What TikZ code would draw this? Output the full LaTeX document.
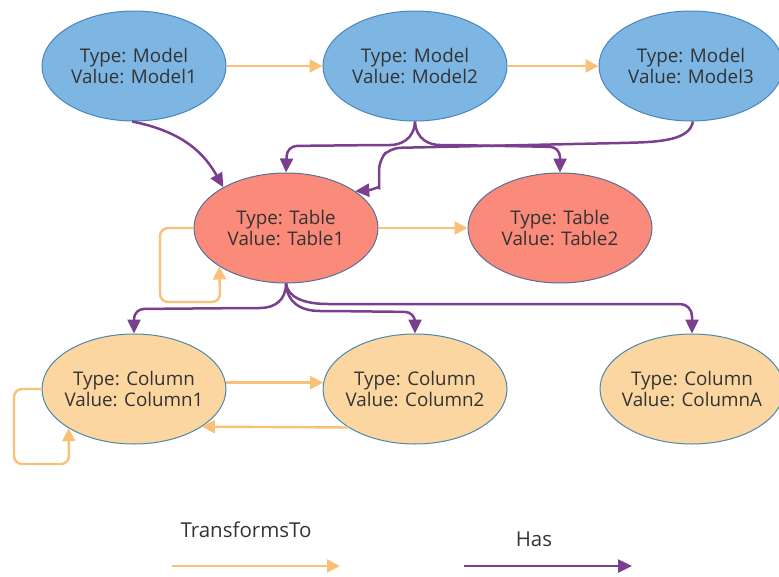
\documentclass[tikz,border=0pt]{standalone}
\usepackage{fontspec}
\setmainfont{Open Sans}
\usetikzlibrary{shapes.geometric,arrows.meta}
\definecolor{modelfill}{HTML}{7DB5E3}
\definecolor{modelline}{HTML}{4A86BE}
\definecolor{tablefill}{HTML}{FA8A7A}
\definecolor{tableline}{HTML}{5A6F98}
\definecolor{colfill}{HTML}{FCD6A0}
\definecolor{colline}{HTML}{4A8AA8}
\definecolor{trans}{HTML}{F9C177}
\definecolor{hasc}{HTML}{7A3F8E}
\definecolor{txt}{HTML}{333333}
\tikzset{
  entity/.style={ellipse, minimum width=184pt, minimum height=110pt,
    inner xsep=-16pt, inner ysep=0pt, line width=1pt, align=center, text=txt,
    font=\fontsize{18.8}{20.5}\selectfont},
  model/.style={entity, fill=modelfill, draw=modelline},
  tbl/.style={entity, fill=tablefill, draw=tableline},
  col/.style={entity, fill=colfill, draw=colline},
  transforms/.style={draw=trans, line width=2.4pt, -{Triangle[length=13pt,width=13pt]}},
  has/.style={draw=hasc, line width=2.5pt, -{Triangle[length=14pt,width=13pt]}},
  legendtext/.style={text=txt, font=\fontsize{20.5}{24}\selectfont}
}
\begin{document}
\begin{tikzpicture}[x=1pt, y=-1pt]
\useasboundingbox (0,0) rectangle (779,576);

% entities
\node[model] (m1) at (134,66) {Type: Model\\Value: Model1};
\node[model] (m2) at (415,66) {Type: Model\\Value: Model2};
\node[model] (m3) at (691,66) {Type: Model\\Value: Model3};
\node[tbl] (t1) at (286,228) {Type: Table\\Value: Table1};
\node[tbl] (t2) at (560,228) {Type: Table\\Value: Table2};
\node[col] (c1) at (134,389) {Type: Column\\Value: Column1};
\node[col] (c2) at (415,389) {Type: Column\\Value: Column2};
\node[col] (ca) at (692,389) {Type: Column\\Value: ColumnA};

% TransformsTo relations
\draw[transforms] (m1.east) -- (m2.west);
\draw[transforms] (m2.east) -- (m3.west);
\draw[transforms] (t1.east) -- (t2.west);
\draw[transforms] (c1.4) -- (c2.176);
\draw[transforms] (c2.-150) -- (c1.-29);
\draw[transforms, rounded corners=8pt] (t1.west) -- (160,228) -- (160,302) -- (220,302) -- (t1.-150);
\draw[transforms, rounded corners=8pt] (c1.west) -- (14,389) -- (14,464) -- (69,464) -- (c1.-149);

% Has relations
\draw[has] (m1.-92) .. controls (185,132) and (205,155) .. (t1.147);
\draw[has, rounded corners=10pt] (m2.-90) .. controls (414,140) and (400,145) .. (380,145) -- (287,146) -- (t1.north);
\draw[has, rounded corners=10pt] (m2.-90) .. controls (416,140) and (430,145) .. (450,145) -- (560,147) -- (t2.north);
\draw[has, rounded corners=10pt] (m3.-88) .. controls (690,140) and (660,142) .. (620,143) -- (390,148) -- (379,160) -- (379,178) .. controls (379,186) and (372,190) .. (t1.28);
\draw[has, rounded corners=10pt] (t1.south) .. controls (286,300) and (275,308) .. (250,308) -- (134,309) -- (c1.north);
\draw[has, rounded corners=10pt] (t1.south) .. controls (287,302) and (300,311) .. (330,311) -- (415,312) -- (c2.north);
\draw[has, rounded corners=12pt] (t1.south) .. controls (288,298) and (305,304) .. (340,304) -- (692,304) -- (ca.north);

% legend
\node[legendtext] (lt) at (246,530) {TransformsTo};
\coordinate (lta) at (172,566);
\coordinate (ltb) at (340,566);
\draw[transforms] (lta) -- (ltb);
\node[legendtext] (lh) at (534,539) {Has};
\coordinate (lha) at (464,566);
\coordinate (lhb) at (632,566);
\draw[has] (lha) -- (lhb);
\end{tikzpicture}
\end{document}
